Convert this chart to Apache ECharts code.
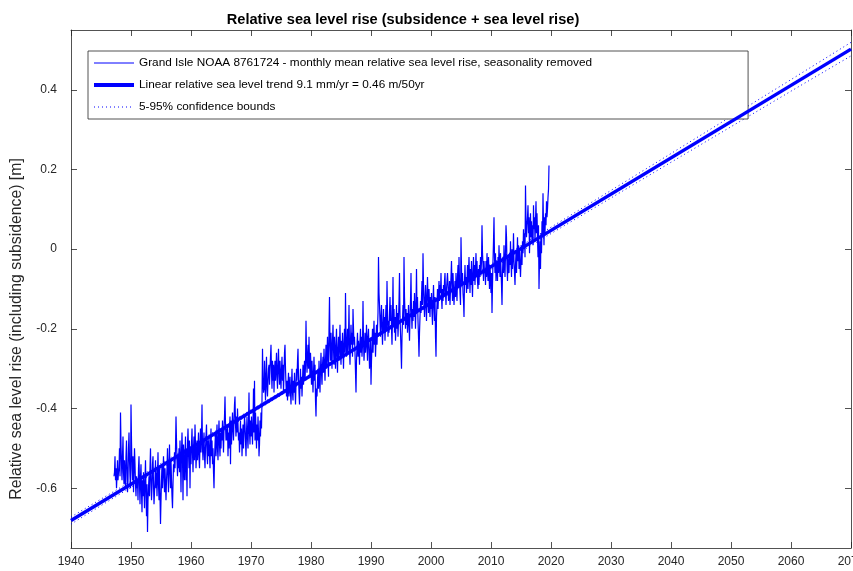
<!DOCTYPE html>
<html>
<head>
<meta charset="utf-8">
<script src="https://cdn.jsdelivr.net/npm/echarts@6/dist/echarts.min.js"></script>
<style>
  html, body { margin: 0; padding: 0; background: #fff; }
  #chart { width: 853px; height: 571px; }
</style>
</head>
<body>
<div id="chart"></div>
<script>
// Grand Isle monthly mean relative sea level (cm), seasonality removed, starting March 1947
const sl1940s = [
  -57,-56,-52,-58,-55,-60,-57,-53,-58,-56,
  -55,-50,-57,-41,-49,-54,-58,-52,-47,-56,-59,-53,
  -57,-60,-52,-48,-55,-61,-58,-50,-46,-53,-57,-60
];
const sl1950s = [
  -39,-48,-55,-58,-52,-61,-56,-50,-54,-59,-62,-57,
  -60,-58,-63,-55,-52,-59,-64,-57,-54,-61,-66,-58,
  -62,-56,-60,-65,-58,-53,-61,-67,-59,-71,-63,-60,
  -57,-62,-55,-50,-58,-63,-60,-54,-52,-59,-64,-61,
  -58,-53,-60,-56,-62,-57,-51,-59,-63,-55,-62,-69,
  -63,-58,-54,-60,-56,-52,-57,-61,-55,-59,-63,-58,
  -55,-50,-57,-61,-54,-49,-56,-60,-53,-58,-62,-65,
  -59,-54,-56,-51,-55,-50,-42,-48,-53,-57,-52,-55,
  -50,-56,-48,-53,-61,-51,-46,-52,-63,-49,-53,-58,
  -52,-47,-58,-50,-62,-49,-45,-51,-55,-48,-60,-50
];
const sl1960s = [
  -54,-49,-45,-51,-56,-50,-47,-53,-44,-49,-55,-52,
  -48,-53,-50,-46,-52,-55,-49,-45,-51,-47,-39,-50,
  -53,-49,-46,-52,-55,-50,-47,-44,-51,-54,-48,-52,
  -47,-51,-55,-49,-45,-52,-48,-54,-50,-56,-60,-53,
  -49,-46,-52,-48,-44,-50,-53,-47,-43,-49,-52,-46,
  -50,-45,-48,-43,-47,-51,-45,-42,-37,-44,-48,-45,
  -48,-44,-52,-46,-50,-45,-42,-54,-43,-49,-45,-41,
  -45,-48,-43,-39,-37,-44,-47,-42,-46,-40,-44,-48,
  -46,-51,-47,-43,-49,-45,-52,-48,-44,-50,-46,-42,
  -44,-48,-52,-46,-42,-47,-50,-44,-36,-46,-49,-43
];
const sl1970s = [
  -47,-42,-45,-49,-44,-35,-46,-33,-48,-41,-45,-50,
  -44,-48,-42,-46,-52,-49,-43,-47,-41,-45,-38,-25,
  -33,-36,-35,-28,-34,-38,-31,-27,-35,-37,-33,-30,
  -29,-34,-30,-27,-24,-31,-35,-28,-33,-29,-36,-31,
  -28,-33,-30,-26,-32,-35,-29,-25,-31,-34,-28,-32,
  -35,-30,-27,-33,-29,-36,-31,-26,-24,-30,-34,-37,
  -33,-38,-34,-31,-37,-35,-32,-36,-39,-34,-30,-36,
  -38,-33,-36,-31,-35,-39,-34,-30,-33,-28,-25,-32,
  -36,-39,-34,-30,-35,-32,-37,-33,-29,-34,-31,-28,
  -33,-29,-18,-26,-31,-27,-24,-30,-22,-28,-32,-26
];
const sl1980s = [
  -30,-34,-28,-32,-36,-31,-27,-33,-29,-38,-42,-35,
  -37,-33,-30,-35,-28,-32,-36,-30,-26,-31,-34,-29,
  -27,-31,-25,-29,-33,-28,-24,-30,-26,-22,-28,-32,
  -20,-12,-24,-28,-21,-26,-30,-23,-19,-25,-29,-22,
  -26,-30,-24,-20,-27,-31,-25,-22,-28,-24,-19,-26,
  -29,-23,-27,-21,-25,-30,-24,-20,-26,-11,-22,-27,
  -24,-20,-26,-22,-14,-25,-29,-23,-19,-24,-21,-27,
  -15,-20,-24,-22,-26,-31,-36,-28,-24,-21,-27,-23,
  -25,-29,-23,-20,-26,-22,-27,-24,-13,-23,-28,-25,
  -21,-26,-24,-19,-24,-28,-22,-20,-25,-30,-27,-23
];
const sl1990s = [
  -34,-28,-24,-20,-26,-22,-18,-24,-21,-27,-23,-19,
  -24,-20,-16,-2,-11,-14,-18,-22,-17,-14,-20,-24,
  -19,-15,-21,-17,-23,-18,-14,-20,-8,-16,-22,-18,
  -21,-16,-12,-18,-14,-20,-24,-17,-7,-19,-15,-21,
  -17,-23,-19,-14,-20,-16,-22,-18,-13,-6,-17,-21,
  -25,-30,-22,-18,-14,-19,-2,-12,-16,-20,-15,-19,
  -16,-21,-18,-14,-19,-23,-17,-13,-6,-16,-20,-15,
  -18,-13,-17,-11,-15,-20,-14,-5,-16,-12,-18,-22,
  -27,-21,-17,-13,-16,-12,-8,-14,-1,-9,-13,-17,
  -13,-9,-14,-18,-11,-7,-12,-16,-10,-14,-17,-12
];
const sl2000s = [
  -15,-11,-16,-19,-13,-9,-14,-18,-12,-22,-27,-17,
  -14,-10,-15,-12,-8,-13,-9,-11,-6,-12,-15,-10,
  -13,-9,-12,-8,-6,-11,-14,-10,-8,-6,-9,-13,
  -12,-8,-14,-10,-7,-3,-9,-13,-6,-10,-14,-11,
  -8,-12,-6,-10,-13,-7,-4,-9,-2,-8,-11,-14,
  3,-5,-9,-6,-11,-13,-17,-8,-4,-9,-7,-11,
  -8,-4,-10,-6,-2,-7,-11,-5,-9,-3,-8,-12,
  -6,-2,-8,-4,-9,-5,-1,-7,-3,-8,-10,-5,
  -9,-4,-7,-2,-6,-3,6,-1,-4,-8,-3,-6,
  -5,-9,-3,-7,-1,-5,-8,-2,-6,-10,-4,-7
];
const sl2010s = [
  -11,-6,-16,-9,-3,2,8,-2,-6,-1,-8,-4,
  -3,-8,-2,-6,1,-4,-7,-1,-5,-9,-14,-6,
  -2,-6,1,-3,-7,-1,6,3,-4,-8,-2,-5,
  -6,-1,-4,2,-3,-7,0,-5,-2,4,-3,-6,
  -9,-4,-1,-6,-2,3,-3,1,-5,0,-4,-7,
  -3,1,-4,2,-1,5,0,4,-2,16,7,3,
  6,8,11,4,8,-1,5,9,3,7,2,6,
  1,11,5,8,2,7,12,4,9,3,-2,6,
  -10,-3,2,-5,4,-1,7,3,14,6,1,8,
  4,9,6,12,8,10,13,15,21
];
const firstMonth = 1947 + 2 / 12;

// Linear trend (m), 9.1 mm/yr
const trendYears = [1940, 2070];
const trendValues = [-0.681, 0.502];

// 5-95% confidence bounds of the trend (m)
const boundYears = [1940, 1960, 1980, 2000, 2020, 2040, 2060, 2070];
const boundUpper = [-0.672, -0.493, -0.313, -0.130, 0.055, 0.240, 0.4255, 0.519];
const boundLower = [-0.690, -0.505, -0.321, -0.140, 0.039, 0.218, 0.3965, 0.485];

// Axis ticks
const xTicks = { min: 1940, max: 2070, step: 10 };
const yTickValues = [-0.6, -0.4, -0.2, 0, 0.2, 0.4];
const yRange = [-0.75, 0.55];

const monthly = [].concat(sl1940s, sl1950s, sl1960s, sl1970s, sl1980s, sl1990s, sl2000s, sl2010s);
const monthlyData = monthly.map((cm, i) => [firstMonth + i / 12, cm / 100]);
const trendData = trendYears.map((y, i) => [y, trendValues[i]]);
const upperData = boundYears.map((y, i) => [y, boundUpper[i]]);
const lowerData = boundYears.map((y, i) => [y, boundLower[i]]);

const FONT = 'Liberation Sans, Arial, Helvetica, sans-serif';
const AXIS_COLOR = '#262626';
const BLUE = '#0000ff';

const NAME_DATA = 'Grand Isle NOAA 8761724 - monthly mean relative sea level rise, seasonality removed';
const NAME_TREND = 'Linear relative sea level trend 9.1 mm/yr = 0.46 m/50yr';
const NAME_BOUNDS = '5-95% confidence bounds';
const Y_LABEL = 'Relative sea level rise (including subsidence) [m]';

const frameLine = { show: true, onZero: false, lineStyle: { color: AXIS_COLOR, width: 0.8 } };
const insideTick = { show: true, inside: true, length: 6, lineStyle: { color: AXIS_COLOR, width: 0.8 } };

const chart = echarts.init(document.getElementById('chart'), null, { renderer: 'canvas' });
chart.setOption({
  animation: false,
  backgroundColor: '#ffffff',
  title: {
    text: 'Relative sea level rise (subsidence + sea level rise)',
    left: 398, top: 7, textAlign: 'center',
    textStyle: { fontFamily: FONT, fontSize: 14.6, fontWeight: 'bold', color: '#000' }
  },
  graphic: [{
    type: 'text',
    x: 17, y: 329,
    rotation: Math.PI / 2,
    style: {
      text: Y_LABEL,
      fontFamily: FONT, fontSize: 15.8, fill: AXIS_COLOR,
      align: 'center', verticalAlign: 'middle'
    }
  }],
  grid: { left: 71, right: 2, top: 30, bottom: 23, containLabel: false, outerBoundsMode: 'none' },
  legend: {
    orient: 'vertical',
    left: 88, top: 51,
    padding: [6, 156, 6, 4],
    itemGap: 10,
    itemWidth: 40, itemHeight: 14,
    borderColor: AXIS_COLOR, borderWidth: 0.8,
    backgroundColor: '#ffffff',
    itemStyle: { opacity: 0 },
    textStyle: { fontFamily: FONT, fontSize: 11.8, color: '#000' },
    data: [
      { name: NAME_DATA, lineStyle: { color: BLUE, width: 1 } },
      { name: NAME_TREND, lineStyle: { color: BLUE, width: 4 } },
      { name: NAME_BOUNDS, lineStyle: { color: BLUE, width: 1, type: [1, 3] } }
    ]
  },
  xAxis: [{
    type: 'value', position: 'bottom',
    min: xTicks.min, max: xTicks.max, interval: xTicks.step,
    axisLine: frameLine, axisTick: insideTick, splitLine: { show: false },
    axisLabel: { margin: 8, fontFamily: FONT, fontSize: 12, color: AXIS_COLOR, formatter: v => String(v) }
  }, {
    type: 'value', position: 'top',
    min: xTicks.min, max: xTicks.max, interval: xTicks.step,
    axisLine: frameLine, axisTick: insideTick, splitLine: { show: false },
    axisLabel: { show: false }
  }],
  yAxis: [{
    type: 'value', position: 'left',
    min: yRange[0], max: yRange[1],
    axisLine: frameLine,
    axisTick: Object.assign({}, insideTick, { customValues: yTickValues }),
    splitLine: { show: false },
    axisLabel: {
      margin: 14, fontFamily: FONT, fontSize: 12, color: AXIS_COLOR,
      customValues: yTickValues,
      formatter: v => String(Math.round(v * 10) / 10)
    }
  }, {
    type: 'value', position: 'right',
    min: yRange[0], max: yRange[1],
    axisLine: frameLine,
    axisTick: Object.assign({}, insideTick, { customValues: yTickValues }),
    splitLine: { show: false },
    axisLabel: { show: false }
  }],
  series: [{
    name: NAME_DATA, type: 'line', data: monthlyData,
    showSymbol: false, symbol: 'none',
    lineStyle: { color: BLUE, width: 1.2 }, itemStyle: { color: BLUE },
    z: 2
  }, {
    name: NAME_TREND, type: 'line', data: trendData,
    showSymbol: false, symbol: 'none',
    lineStyle: { color: BLUE, width: 3.5 }, itemStyle: { color: BLUE },
    z: 4
  }, {
    name: NAME_BOUNDS, type: 'line', data: upperData,
    showSymbol: false, symbol: 'none',
    lineStyle: { color: BLUE, width: 1, type: [1, 3] }, itemStyle: { color: BLUE },
    z: 3
  }, {
    name: NAME_BOUNDS, type: 'line', data: lowerData,
    showSymbol: false, symbol: 'none',
    lineStyle: { color: BLUE, width: 1, type: [1, 3] }, itemStyle: { color: BLUE },
    z: 3
  }]
});
</script>
</body>
</html>
